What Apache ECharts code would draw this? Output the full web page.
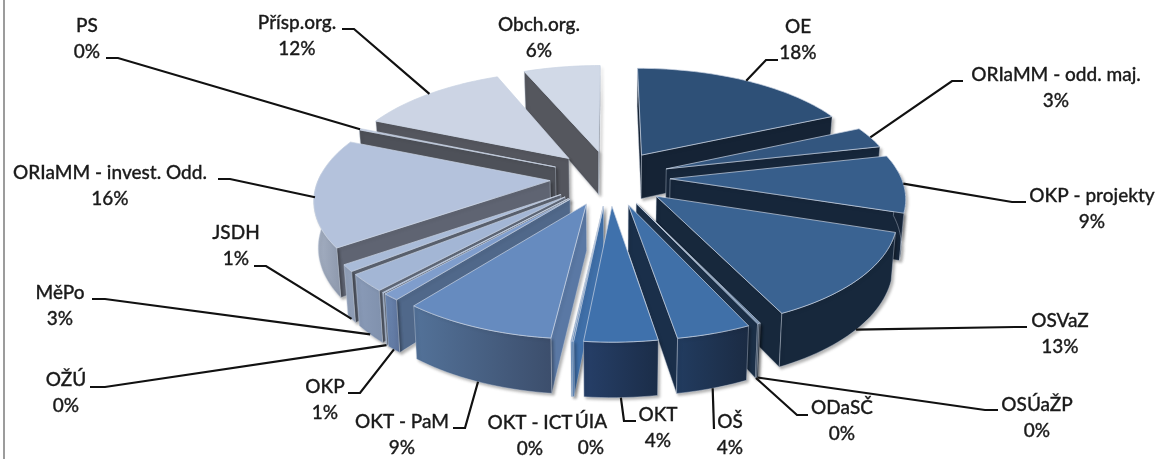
<!DOCTYPE html>
<html><head><meta charset="utf-8">
<style>html,body{margin:0;padding:0;background:#fff}#c{width:1158px;height:459px}</style>
<script src="https://cdn.jsdelivr.net/npm/echarts@6/dist/echarts.min.js"></script>
</head><body><div id="c"></div>
<script>
// ---- data ----
const categories = ['OE','ORIaMM - odd. maj.','OKP - projekty','OSVaZ','OSÚaŽP','ODaSČ','OŠ','OKT','ÚIA','OKT - ICT','OKT - PaM','OKP','OŽÚ','MěPo','JSDH','ORIaMM - invest. Odd.','PS','Přísp.org.','Obch.org.'];
const shares = [18.25,3.2,8.55,12.95,0.08,0.08,4.3,4.2,0.08,0.06,8.9,1.0,0.08,2.5,1.0,16.0,0.22,12.25,6.3];

// ---- styles ----
const topColors  = ['#2e5077','#33567f','#375e8b','#3a6392','#3b6695','#3c6899','#4070a8','#3f71ac','#3f6fa8','#3f6fa8','#668bbf','#7f9dcc','#8fa8d0','#a3b6d5','#a9bbd8','#b4c2dc','#bcc8df','#ccd4e4','#d1d9e7'];
const faceColors = ['#152335','#16263a','#16263a','#17283c','#17283c','#1b2f47','#1a2f4a','#1a2f4a','#3f6fa8','#3f6fa8','#5a78a4','#50688a','#5d6778','#5f6878','#5b6270','#5f6472','#4e5159','#54565e','#55575e'];
const wallLeft   = ['#172538','#17263a','#17263a','#17283c','#17283c','#1b2f47','#223c60','#263f68','#3f6fa8','#3f6fa8','#537299','#6e8ab5','#8093b0','#8a9bb8','#95a4bd','#a8b3c6','#8a92a3','#8a92a3','#8a92a3'];
const wallRight  = ['#172538','#17263a','#17263a','#17283c','#17283c','#1b2f47','#1b2b43','#1b2d48','#3f6fa8','#3f6fa8','#3c4e6c','#5a7098','#8093b0','#8091ad','#8d9bb3','#8d98ac','#8a92a3','#8a92a3','#8a92a3'];

// ---- projection of the exploded disc ----
const CX = 610, CY = 177.5, RX = 231, RY = 106, PERSP = 0.15, EXPLODE = 0.26, DEPTH = 45, SHRINK = 0.015;
function project(u, v, z) {
  const s = 1 / (1 + PERSP * v);
  return [CX + RX * u * s * (1 - SHRINK * z), CY - RY * v * s + DEPTH * s * z];
}
const total = shares.reduce((a, b) => a + b, 0);
let run = 0;
const slices = shares.map((v, i) => {
  const a0 = run / total * 2 * Math.PI; run += v;
  const a1 = run / total * 2 * Math.PI;
  return { i, a0, a1, mid: (a0 + a1) / 2 };
});
function ptAt(sl, ang, r, z) {
  return project(EXPLODE * Math.sin(sl.mid) + r * Math.sin(ang), EXPLODE * Math.cos(sl.mid) + r * Math.cos(ang), z);
}
const order = slices.slice().sort((a, b) => Math.cos(b.mid) - Math.cos(a.mid)).map(s => s.i);

const shadow = { shadowColor: 'rgba(0,0,0,0.3)', shadowBlur: 3, shadowOffsetX: 2, shadowOffsetY: 2 };
function cross(o, a, b) { return (a[0] - o[0]) * (b[1] - o[1]) - (a[1] - o[1]) * (b[0] - o[0]); }
function renderSlice(params, api) {
  const sl = slices[api.value(0)], i = sl.i;
  const n = Math.max(2, Math.ceil((sl.a1 - sl.a0) / 0.03));
  const edge = '#c9d3e2';
  const topArc = [];
  for (let k = 0; k <= n; k++) topArc.push(ptAt(sl, sl.a0 + (sl.a1 - sl.a0) * k / n, 1, 0));
  const apexT = ptAt(sl, 0, 0, 0), apexB = ptAt(sl, 0, 0, 1);
  const kids = [];
  // a side face shows only when its lower edge falls outside the top surface
  [[0, n], [n, 0]].forEach(([e, other]) => {
    const t = topArc[e], oth = topArc[other];
    if (cross(apexT, t, apexB) * cross(apexT, t, oth) < 0) {
      const a = e === 0 ? sl.a0 : sl.a1;
      kids.push({ type: 'polygon', shape: { points: [apexT, t, ptAt(sl, a, 1, 1), apexB] },
        style: Object.assign({ fill: faceColors[i], stroke: edge, lineWidth: 0.4 }, shadow) });
    }
  });
  // the rim shows only on the part of the arc that faces the viewer
  const rimT = [], rimB = [];
  for (let k = 0; k <= n; k++) {
    const a = sl.a0 + (sl.a1 - sl.a0) * k / n;
    if (Math.cos(a) <= 0.08) { rimT.push(ptAt(sl, a, 1, 0)); rimB.push(ptAt(sl, a, 1, 1)); }
  }
  if (rimT.length > 1) {
    kids.push({ type: 'polygon', shape: { points: rimT.concat(rimB.reverse()) },
      style: Object.assign({ fill: { type: 'linear', x: 0, y: 0, x2: 1, y2: 0, colorStops: [{ offset: 0, color: wallLeft[i] }, { offset: 1, color: wallRight[i] }] }, stroke: edge, lineWidth: 0.4 }, shadow) });
  }
  kids.push({ type: 'polygon', shape: { points: [apexT].concat(topArc) },
    style: { fill: topColors[i], stroke: edge, lineWidth: 0.7 } });
  return { type: 'group', children: kids };
}

// ---- annotation layout: label centre, and leader path ending on the slice ----
const labelCentres = [[798,40],[1056,88],[1092,209],[1060,334],[1037,418],[842,421],[730,435],[658,428],[591,435],[530,436],[402,435],[325,400],[66,393],[60,306],[236,246],[110,186],[87,39],[297,36],[539,38]];
const leaderPaths = [[[778,60],[766,60]],[[963,81],[952,81]],[[1026,202],[1012,202]],[[1027,327],[1015,327]],[[998,410],[985,410]],[[808,415],[797,415]],[[714,429]],[[636,421],[624,421]],null,null,[[453,428],[465,428]],[[348,393],[360,393]],[[90,387],[105,387]],[[92,299],[105,299]],[[254,266],[266,266]],[[218,179],[230,179]],[[106,58],[118,58]],[[342,29],[354,29]],null];
const leaderDepth = [0,0,0,1,1,1,1,1,0,0,1,1,1,1,1,0.1,0,0,0];

function renderLabel(params, api) {
  const i = api.value(0), sl = slices[i], c = labelCentres[i], kids = [];
  const pct = Math.round(shares[i]) + '%';
  const font = { fontFamily: 'Lato', fontSize: 19, fontWeight: 500, fill: '#1a1a1a', stroke: '#1a1a1a', lineWidth: 0.3, align: 'center', verticalAlign: 'middle' };
  kids.push({ type: 'text', style: Object.assign({ text: categories[i], x: c[0], y: c[1] - 13 }, font) });
  kids.push({ type: 'text', style: Object.assign({ text: pct, x: c[0], y: c[1] + 13 }, font) });
  if (leaderPaths[i]) {
    const pts = leaderPaths[i].concat([ptAt(sl, sl.mid, 1, leaderDepth[i])]);
    kids.push({ type: 'polyline', shape: { points: pts }, style: { fill: 'none', stroke: '#111', lineWidth: 2.2 } });
  }
  return { type: 'group', children: kids };
}

const chart = echarts.init(document.getElementById('c'), null, { renderer: 'canvas' });
chart.setOption({
  animation: false,
  backgroundColor: '#fff',
  graphic: [{ type: 'rect', shape: { x: 3, y: 0, width: 2, height: 459 }, style: { fill: '#9c9c9c' } }],
  series: [
    { type: 'custom', coordinateSystem: 'none', data: order.map(i => [i]), renderItem: renderSlice, silent: true, z: 2 },
    { type: 'custom', coordinateSystem: 'none', data: categories.map((c, i) => [i]), renderItem: renderLabel, silent: true, z: 3 }
  ]
});
</script></body></html>
